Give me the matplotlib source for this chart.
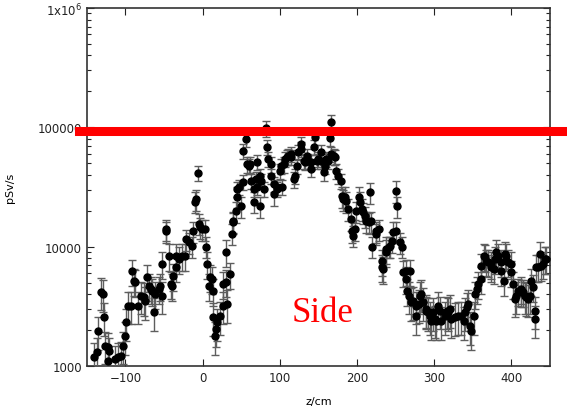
"""Dose rate along the beam axis, side detector scan."""

import numpy as np
import matplotlib
matplotlib.use("Agg")
import matplotlib.pyplot as plt
from matplotlib.ticker import FixedLocator, FixedFormatter, LogLocator, NullFormatter

# position along z (cm)
z_cm = [
    -141, -137, -135, -132, -129, -128, -126, -123, -122, -121,
    -113, -109, -105, -103, -100, -99, -97, -93, -91, -89,
    -87, -84, -80, -76, -74, -72, -70, -67, -66, -63,
    -61, -57, -55, -53, -52, -48, -47, -44, -41, -40,
    -38, -35, -34, -30, -27, -23, -21, -17, -14, -13,
    -10, -9, -6, -5, -3, -1, 3, 4, 6, 8,
    9, 12, 13, 14, 16, 17, 19, 23, 26, 27,
    30, 31, 32, 36, 38, 39, 40, 43, 44, 45,
    47, 50, 52, 53, 56, 57, 60, 62, 63, 66,
    67, 69, 70, 71, 74, 75, 76, 79, 82, 83,
    85, 88, 89, 92, 93, 96, 97, 100, 102, 103,
    105, 107, 109, 111, 114, 115, 118, 120, 122, 124,
    127, 128, 131, 133, 135, 137, 140, 141, 144, 146,
    148, 150, 153, 154, 157, 159, 160, 163, 165, 166,
    167, 170, 172, 173, 176, 179, 180, 182, 185, 186,
    189, 192, 193, 195, 198, 199, 202, 204, 206, 208,
    211, 212, 215, 217, 218, 219, 224, 225, 228, 232,
    233, 234, 237, 238, 241, 243, 245, 247, 250, 251,
    252, 256, 258, 260, 263, 264, 265, 268, 269, 270,
    273, 276, 277, 280, 282, 283, 286, 289, 290, 292,
    295, 296, 299, 301, 303, 305, 308, 309, 314, 316,
    318, 321, 322, 327, 331, 335, 338, 340, 342, 344,
    347, 348, 351, 353, 355, 357, 360, 361, 364, 366,
    367, 370, 373, 374, 377, 379, 380, 383, 386, 387,
    390, 392, 393, 396, 399, 400, 402, 405, 406, 409,
    412, 413, 415, 418, 419, 422, 424, 426, 428, 430,
    431, 432, 435, 437, 439, 441, 444, 445,
]

# dose rate (pSv/s)
dose_rate = [
    1190, 1310, 1960, 4170, 4010, 2570, 1470, 1440, 1100, 1330,
    1140, 1190, 1210, 1470, 1780, 2330, 3180, 3180, 6240, 5150,
    5050, 3180, 3860, 3780, 3500, 5560, 4680, 4410, 4250, 2830,
    4010, 4410, 4680, 3860, 7150, 13500, 14000, 8340, 4860, 4680,
    5670, 6750, 8340, 7870, 8340, 8340, 11600, 10900, 10100, 13500,
    23700, 25100, 41400, 15500, 14600, 14000, 14000, 10000, 7150, 4680,
    5560, 5350, 4250, 2570, 1780, 2040, 2330, 2620, 3180, 4860,
    5050, 9010, 3300, 5890, 12800, 16100, 16400, 19900, 26100, 30400,
    31600, 21900, 34800, 63300, 79800, 49200, 47400, 49200, 35500, 30400,
    23700, 36800, 31600, 51200, 21900, 39100, 35500, 30400, 98000, 68400,
    54200, 49200, 39100, 33500, 27600, 31600, 30400, 43000, 47400, 31600,
    49200, 54200, 56400, 57400, 59700, 56400, 36800, 39100, 47400, 62100,
    72400, 65800, 52200, 51200, 57400, 52200, 44700, 51200, 68400, 82900,
    52200, 54200, 52200, 62100, 42000, 47400, 54200, 52200, 81300, 110700,
    59700, 57400, 56400, 43000, 39100, 35500, 26600, 25100, 26100, 24100,
    20700, 17000, 13500, 12300, 14000, 19900, 26100, 23700, 20700, 19500,
    18000, 16400, 16100, 28700, 16400, 10000, 13500, 12800, 14000, 7570,
    6750, 6490, 9010, 9550, 10000, 10100, 11100, 13300, 13500, 29300,
    21900, 10900, 10000, 6120, 5350, 6240, 4250, 3860, 6240, 3430,
    3500, 2620, 3180, 3300, 3860, 4010, 3430, 2890, 3000, 2830,
    2620, 2380, 2830, 2470, 2380, 3180, 2890, 2380, 2620, 2890,
    2830, 3000, 2470, 2570, 2620, 2620, 2380, 2830, 3120, 3300,
    2160, 1960, 2620, 4010, 4410, 4860, 5350, 6880, 8340, 8180,
    7570, 7430, 7150, 6750, 6490, 7870, 9010, 8340, 6240, 7430,
    5150, 8670, 8340, 7430, 7150, 6120, 4860, 3640, 3860, 4250,
    4170, 4410, 4170, 3860, 3780, 3640, 3860, 5150, 4590, 2890,
    2470, 6750, 6750, 8670, 6880, 7150, 7870, 7870,
]

# relative uncertainty of each reading
rel_err = [
    .30, .30, .30, .30, .30, .30, .30, .30, .30, .30,
    .30, .30, .30, .30, .30, .30, .30, .30, .25, .25,
    .25, .30, .30, .30, .30, .25, .25, .25, .25, .30,
    .25, .25, .25, .30, .25, .20, .20, .25, .25, .25,
    .25, .25, .25, .25, .25, .25, .20, .20, .20, .20,
    .20, .20, .15, .20, .20, .20, .20, .20, .25, .25,
    .25, .25, .25, .30, .30, .30, .30, .30, .30, .25,
    .25, .25, .30, .25, .20, .20, .20, .20, .20, .15,
    .15, .20, .15, .15, .15, .15, .15, .15, .15, .15,
    .20, .15, .15, .15, .20, .15, .15, .15, .15, .15,
    .15, .15, .15, .15, .20, .15, .15, .15, .15, .15,
    .15, .15, .15, .15, .15, .15, .15, .15, .15, .15,
    .15, .15, .15, .15, .15, .15, .15, .15, .15, .15,
    .15, .15, .15, .15, .15, .15, .15, .15, .15, .15,
    .15, .15, .15, .15, .15, .15, .20, .20, .20, .20,
    .20, .20, .20, .20, .20, .20, .20, .20, .20, .20,
    .20, .20, .20, .20, .20, .20, .20, .20, .20, .25,
    .25, .25, .25, .25, .20, .20, .20, .20, .20, .20,
    .20, .20, .20, .25, .25, .25, .25, .30, .25, .30,
    .30, .30, .30, .30, .30, .30, .30, .30, .30, .30,
    .30, .30, .30, .30, .30, .30, .30, .30, .30, .30,
    .30, .30, .30, .30, .30, .30, .30, .30, .30, .30,
    .30, .30, .30, .25, .25, .25, .25, .25, .25, .25,
    .25, .25, .25, .25, .25, .25, .25, .25, .25, .25,
    .25, .25, .25, .25, .25, .25, .25, .30, .30, .25,
    .25, .25, .25, .30, .30, .30, .30, .25, .25, .30,
    .30, .25, .25, .25, .25, .25, .25, .25,
]

limit = 94000  # dose-rate limit marked in red
y_ticks = [1e3, 1e4, 1e5, 1e6]
y_tick_labels = ["1000", "10000", "100000", "1x10$^{6}$"]
x_ticks = [-100, 0, 100, 200, 300, 400]


def main() -> None:
    z = np.array(z_cm, dtype=float)
    d = np.array(dose_rate, dtype=float)
    e = np.array(rel_err) * d

    fig = plt.figure(figsize=(5.67, 4.10), dpi=100)
    ax = fig.add_axes([0.153, 0.105, 0.817, 0.873])

    ax.errorbar(z, d, yerr=e, fmt="o", color="black", ms=5,
                ecolor="#5e5e5e", elinewidth=1.0, capsize=3, capthick=1.0,
                zorder=3)

    ax.set_yscale("log")
    ax.set_xlim(-150, 450)
    ax.set_ylim(1e3, 1e6)

    ax.yaxis.set_major_locator(FixedLocator(y_ticks))
    ax.yaxis.set_major_formatter(FixedFormatter(y_tick_labels))
    ax.yaxis.set_minor_locator(LogLocator(base=10, subs=np.arange(2, 10)))
    ax.yaxis.set_minor_formatter(NullFormatter())
    ax.set_xticks(x_ticks)

    ax.tick_params(which="both", direction="in", top=True, right=True,
                   labelsize=8.5, colors="#222222", width=0.8)
    ax.tick_params(which="major", length=5)
    ax.tick_params(which="minor", length=3)
    for side in ax.spines.values():
        side.set_linewidth(1.2)
        side.set_color("#333333")

    ax.set_xlabel("z/cm", fontsize=8, labelpad=9)
    ax.set_ylabel("pSv/s", fontsize=8, labelpad=16)

    # limit line runs past both axis edges
    ax.axhline(limit, xmin=-0.016, xmax=1.05, color="red", lw=6.5,
               clip_on=False, zorder=4)

    ax.text(0.508, 0.15, "Side", transform=ax.transAxes, ha="center",
            va="center", color="red", fontsize=25, family="Liberation Serif")

    fig.savefig("out.png", dpi=100)


if __name__ == "__main__":
    main()
